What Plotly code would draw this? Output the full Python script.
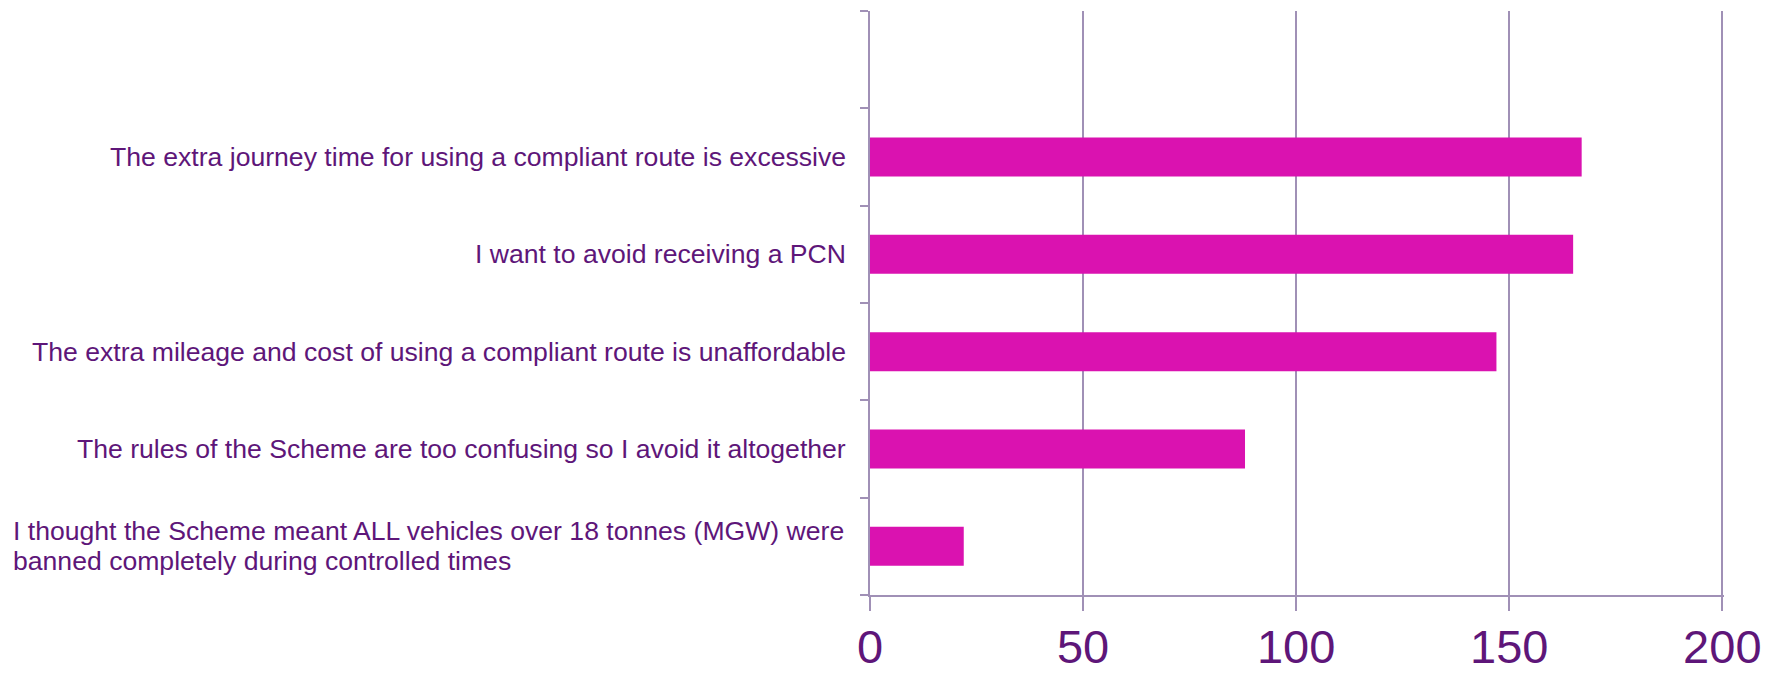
import plotly.graph_objects as go

labels = [
    "I thought the Scheme meant ALL vehicles over 18 tonnes (MGW) were<br>banned completely during controlled times",
    "The rules of the Scheme are too confusing so I avoid it altogether",
    "The extra mileage and cost of using a compliant route is unaffordable",
    "I want to avoid receiving a PCN",
    "The extra journey time for using a compliant route is excessive",
]
values = [22, 88, 147, 165, 167]
blank_category = " "
x_ticks = [0, 50, 100, 150, 200]

bar_color = "#DA12B0"
text_color = "#5E1679"
axis_color = "#A090B6"
font_family = "Liberation Sans, Arial, sans-serif"
label_size = 26.6
line_height = 30
label_gap = -22       # right-aligned labels: gap to the axis
block_left = -859     # multi-line labels: left edge, relative to the plot's left edge

fig = go.Figure()
fig.add_trace(go.Bar(
    x=values,
    y=labels,
    orientation="h",
    marker=dict(color=bar_color, line=dict(width=0)),
    showlegend=False,
    hoverinfo="x+y",
))

# category labels placed on the category axis
for lab in labels:
    lines = lab.split("<br>")
    n = len(lines)
    for i, line in enumerate(lines):
        if n == 1:
            xanchor, xshift = "right", label_gap
        else:
            xanchor, xshift = "left", block_left
        fig.add_annotation(
            x=0, xref="paper", xanchor=xanchor, xshift=xshift,
            y=lab, yref="y", yanchor="middle",
            yshift=((n - 1) / 2 - i) * line_height,
            text=line, showarrow=False, align="left",
            font=dict(family=font_family, size=label_size, color=text_color),
        )

# the page adds an 8px body margin, so the figure is 8px smaller each way
fig.update_layout(
    width=1774, height=666,
    margin=dict(l=862, r=58, t=3, b=79),
    paper_bgcolor="white", plot_bgcolor="white",
    bargap=0.6,
    font=dict(family=font_family, color=text_color),
)
fig.update_xaxes(
    range=[0, 200.4], tickvals=x_ticks, ticktext=[str(v) for v in x_ticks],
    showgrid=True, gridcolor=axis_color, gridwidth=2,
    showline=True, linecolor=axis_color, linewidth=2,
    ticks="outside", ticklen=14, tickcolor=axis_color, tickwidth=2,
    tickfont=dict(size=47, color=text_color),
    ticklabelstandoff=-4,
    zeroline=False, automargin=False,
)
fig.update_yaxes(
    type="category",
    categoryorder="array", categoryarray=labels + [blank_category],
    range=[-0.5, len(labels) + 0.5],
    tickson="boundaries",
    showgrid=False,
    showline=True, linecolor=axis_color, linewidth=2,
    ticks="outside", ticklen=8, tickcolor=axis_color, tickwidth=2,
    showticklabels=False,
    zeroline=False, automargin=False,
)

fig.write_html("out.html")
